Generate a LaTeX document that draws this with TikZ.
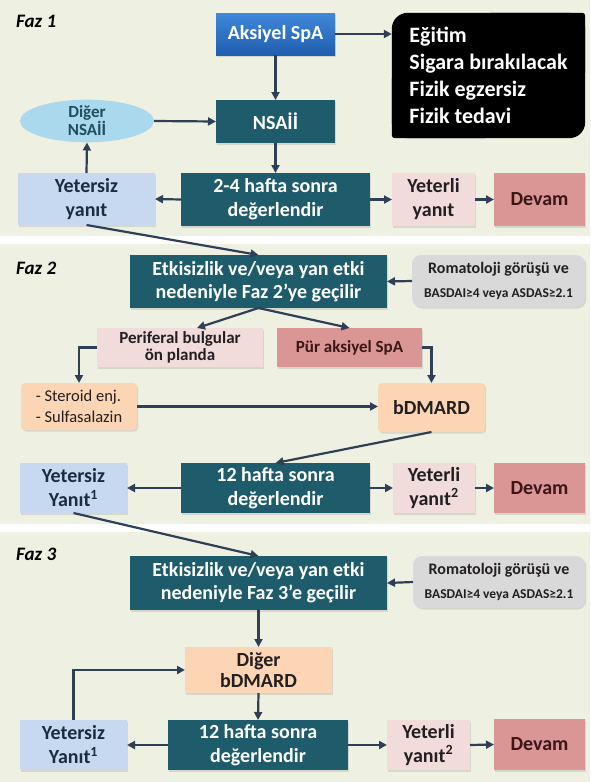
\documentclass[tikz,border=0pt]{standalone}
\usepackage{fontspec}
\setmainfont{Carlito}
\usetikzlibrary{arrows.meta,positioning,calc,backgrounds,shadows,shapes.geometric}
\definecolor{panelbg}{RGB}{238,240,225}
\definecolor{tealbox}{RGB}{30,92,108}
\definecolor{blueA}{RGB}{64,136,218}
\definecolor{blueB}{RGB}{32,94,174}
\definecolor{lightblue}{RGB}{198,217,240}
\definecolor{ellblue}{RGB}{170,216,236}
\definecolor{palepink}{RGB}{242,220,219}
\definecolor{rosebox}{RGB}{218,150,148}
\definecolor{peach}{RGB}{252,213,180}
\definecolor{greybox}{RGB}{217,217,217}
\definecolor{arrowc}{RGB}{47,64,86}
\definecolor{darktxt}{RGB}{34,30,34}
\definecolor{navytxt}{RGB}{28,44,62}
\definecolor{maroontxt}{RGB}{58,22,22}
\definecolor{elltxt}{RGB}{31,78,95}
\tikzset{box/.style={rectangle,inner sep=0pt,outer sep=0pt,align=center,
 font=\bfseries\fontsize{20}{24}\selectfont,
 drop shadow={shadow xshift=1.2pt,shadow yshift=-1.5pt,opacity=.22}},
 dark/.style={box,fill=tealbox,text=white},
 lblue/.style={box,fill=lightblue,text=navytxt},
 pinkb/.style={box,fill=palepink,text=darktxt},
 roseb/.style={box,fill=rosebox,text=maroontxt},
 peachb/.style={box,fill=peach,text=darktxt,rounded corners=4pt},
 greyb/.style={box,fill=greybox,text=darktxt,rounded corners=9pt},
 smallf/.style={font=\bfseries\fontsize{17}{17}\selectfont},
 arr/.style={-{Triangle[length=8pt,width=8pt]},line width=2.2pt,draw=arrowc},
 faz/.style={anchor=west,inner sep=0pt,font=\bfseries\itshape\fontsize{19}{22}\selectfont}}
\begin{document}
\begin{tikzpicture}[x=1pt,y=-1pt]
\useasboundingbox (0,0) rectangle (590,782);
\begin{scope}[on background layer]
\fill[white] (0,0) rectangle (590,782);
\fill[panelbg] (0,0) rectangle (590,236);
\fill[panelbg] (0,244) rectangle (590,524);
\fill[panelbg] (0,532) rectangle (590,782);
\end{scope}
\node[faz] (faz1) at (16,21) {Faz 1};
\node[faz] (faz2) at (16,268) {Faz 2};
\node[faz] (faz3) at (16,554) {Faz 3};
% Faz 1
\node[box,top color=blueA,bottom color=blueB,text=white,minimum width=119pt,minimum height=42pt] (aks) at (275.5,34) {Aksiyel SpA};
\node[align=left,text=white,inner sep=0pt,minimum width=193pt,minimum height=125pt,font=\bfseries\fontsize{22}{27}\selectfont] (egitim) at (488.5,75.5) {Eğitim\\Sigara bırakılacak\\Fizik egzersiz\\Fizik tedavi};
\node[dark,minimum width=119pt,minimum height=43pt] (nsa) at (275.5,121.5) {NSAİİ};
\node[ellipse,fill=ellblue,text=elltxt,inner sep=0pt,minimum width=134pt,minimum height=38pt,align=center,font=\bfseries\fontsize{17}{16}\selectfont] (diger) at (87,121) {Diğer\\NSAİİ};
\node[lblue,minimum width=137pt,minimum height=52pt] (yet1) at (86.5,199) {Yetersiz\\yanıt};
\node[dark,minimum width=189pt,minimum height=53pt] (deg1) at (275.5,199.5) {2-4 hafta sonra\\değerlendir};
\node[pinkb,minimum width=83pt,minimum height=53pt] (yeterli1) at (433.5,199.5) {Yeterli\\yanıt};
\node[roseb,minimum width=91pt,minimum height=53pt] (devam1) at (539.5,199.5) {Devam};
\begin{scope}[on background layer]
\fill[black,rounded corners=16pt] (egitim.south west) rectangle (egitim.north east);
\fill[black,rounded corners=3pt] (egitim.center) rectangle (egitim.north east);
\fill[black,rounded corners=3pt] (egitim.center) rectangle (egitim.south west);
\end{scope}
\draw[arr] (aks.east)--(aks.east-|egitim.west);
\foreach \a/\b in {aks/nsa,nsa/deg1}{\draw[arr] (\a.south)--(\b.north);}
\draw[arr] (diger.east)--(nsa.west);
\draw[arr] (yet1.north)--(diger.south);
\draw[arr] (deg1.west)--(yet1.east);
\foreach \a/\b in {deg1/yeterli1,yeterli1/devam1}{\draw[arr] (\a.east)--(\b.west);}
% Faz 2
\node[dark,minimum width=257pt,minimum height=53pt,font=\bfseries\fontsize{20}{23}\selectfont] (etk2) at (258.5,281.5) {Etkisizlik ve/veya yan etki\\nedeniyle Faz 2’ye geçilir};
\node[greyb,minimum width=173pt,minimum height=52pt] (rom2) at (498.5,281) {\fontsize{16}{20}\selectfont Romatoloji görüşü ve\\\fontsize{13.5}{16}\selectfont BASDAI≥4 veya ASDAS≥2.1};
\node[pinkb,smallf,minimum width=166pt,minimum height=39pt] (per) at (180,347.5) {Periferal bulgular\\ön planda};
\node[roseb,smallf,minimum width=145pt,minimum height=39pt] (pur) at (349.5,347.5) {Pür aksiyel SpA};
\node[peachb,align=left,font=\fontsize{16.5}{21}\selectfont,minimum width=116pt,minimum height=47pt] (ster) at (79,406.5) {- Steroid enj.\\- Sulfasalazin};
\node[peachb,minimum width=107pt,minimum height=49pt] (bdm) at (431.5,407.5) {bDMARD};
\node[dark,minimum width=189pt,minimum height=50pt] (d12b) at (275.5,488) {12 hafta sonra\\değerlendir};
\node[lblue,minimum width=107pt,minimum height=50pt] (yet2) at (73.5,488) {Yetersiz\\Yanıt\textsuperscript{1}};
\node[pinkb,minimum width=82pt,minimum height=50pt] (yeterli2) at (434,488) {Yeterli\\yanıt\textsuperscript{2}};
\node[roseb,minimum width=91pt,minimum height=50pt] (devam2) at (539.5,488) {Devam};
\draw[arr] (yet1.south)--(etk2.north);
\draw[arr] (rom2.west)--(etk2.east);
\draw[arr] (etk2.south)--([xshift=17pt]per.north);
\draw[arr] (etk2.south)--(pur.north);
\draw[arr] (per.west)-|(ster.north);
\draw[arr] (pur.east)-|(bdm.north);
\draw[arr] (ster.east)--(ster.east-|bdm.west);
\draw[arr] (bdm.south)--(d12b.north);
\draw[arr] (d12b.west)--(yet2.east);
\foreach \a/\b in {d12b/yeterli2,yeterli2/devam2}{\draw[arr] (\a.east)--(\b.west);}
% Faz 3
\node[dark,minimum width=257pt,minimum height=54pt,font=\bfseries\fontsize{20}{23}\selectfont] (etk3) at (258.5,583) {Etkisizlik ve/veya yan etki\\nedeniyle Faz 3’e geçilir};
\node[greyb,minimum width=172pt,minimum height=52pt] (rom3) at (499,582) {\fontsize{16}{20}\selectfont Romatoloji görüşü ve\\\fontsize{13.5}{16}\selectfont BASDAI≥4 veya ASDAS≥2.1};
\node[peachb,rounded corners=0pt,font=\bfseries\fontsize{20}{21}\selectfont,minimum width=147pt,minimum height=46pt] (dig3) at (258.5,670) {Diğer\\bDMARD};
\node[dark,minimum width=180pt,minimum height=50pt] (d12c) at (258,745) {12 hafta sonra\\değerlendir};
\node[lblue,minimum width=107pt,minimum height=50pt] (yet3) at (73.5,745) {Yetersiz\\Yanıt\textsuperscript{1}};
\node[pinkb,minimum width=83pt,minimum height=50pt] (yeterli3) at (428.5,745) {Yeterli\\yanıt\textsuperscript{2}};
\node[roseb,minimum width=91pt,minimum height=51pt] (devam3) at (539.5,744.5) {Devam};
\draw[arr] (yet2.south)--(etk3.north);
\draw[arr] (rom3.west)--(etk3.east);
\foreach \a/\b in {etk3/dig3,dig3/d12c}{\draw[arr] (\a.south)--(\b.north);}
\draw[arr] (d12c.west)--(yet3.east);
\foreach \a/\b in {d12c/yeterli3,yeterli3/devam3}{\draw[arr] (\a.east)--(\b.west);}
\draw[arr] (yet3.north)|-(dig3.west);
\end{tikzpicture}
\end{document}
